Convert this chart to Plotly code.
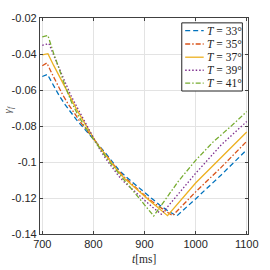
import plotly.graph_objects as go

# ---- data ----
t_33 = [700, 710, 722, 733, 745, 757, 769, 781, 790, 800, 812, 825, 838, 850, 864, 878, 890, 900, 915, 930, 946, 963, 1000, 1050, 1100]
g_33 = [-0.0525, -0.0513, -0.0575, -0.0631, -0.0683, -0.0730, -0.0773, -0.0811, -0.0840, -0.0870, -0.0912, -0.0955, -0.1002, -0.1045, -0.1083, -0.1117, -0.1145, -0.1170, -0.1205, -0.1240, -0.1272, -0.1300, -0.1205, -0.1072, -0.0932]

t_35 = [700, 709, 720, 730, 740, 750, 762, 775, 788, 800, 812, 825, 838, 850, 862, 875, 888, 900, 915, 930, 943, 955, 1000, 1050, 1100]
g_35 = [-0.0465, -0.0450, -0.0515, -0.0575, -0.0627, -0.0675, -0.0728, -0.0780, -0.0826, -0.0868, -0.0915, -0.0962, -0.1010, -0.1052, -0.1088, -0.1122, -0.1155, -0.1185, -0.1220, -0.1252, -0.1276, -0.1298, -0.1166, -0.1030, -0.0885]

t_37 = [700, 711, 722, 733, 745, 757, 768, 778, 789, 800, 812, 825, 838, 850, 862, 875, 888, 900, 913, 925, 935, 945, 1000, 1050, 1100]
g_37 = [-0.0405, -0.0398, -0.0462, -0.0523, -0.0593, -0.0658, -0.0712, -0.0760, -0.0814, -0.0866, -0.0918, -0.0968, -0.1015, -0.1058, -0.1095, -0.1128, -0.1162, -0.1192, -0.1222, -0.1250, -0.1274, -0.1298, -0.1117, -0.0973, -0.0833]

t_39 = [700, 713, 723, 733, 744, 755, 767, 778, 789, 800, 812, 825, 838, 850, 862, 875, 888, 900, 916, 933, 1000, 1050, 1100]
g_39 = [-0.0352, -0.0342, -0.0412, -0.0480, -0.0555, -0.0625, -0.0690, -0.0750, -0.0810, -0.0868, -0.0928, -0.0985, -0.1035, -0.1080, -0.1116, -0.1150, -0.1182, -0.1212, -0.1252, -0.1290, -0.1063, -0.0905, -0.0775]

t_41 = [700, 711, 722, 733, 745, 757, 769, 781, 790, 800, 815, 829, 845, 860, 875, 890, 904, 918, 948, 966, 1000, 1033, 1069, 1100]
g_41 = [-0.0305, -0.0297, -0.0395, -0.0487, -0.0580, -0.0667, -0.0735, -0.0793, -0.0835, -0.0874, -0.0934, -0.0991, -0.1047, -0.1099, -0.1150, -0.1200, -0.1250, -0.1300, -0.1180, -0.1108, -0.0991, -0.0892, -0.0802, -0.0720]

labels = ["33", "35", "37", "39", "41"]
x_ticks = [700, 800, 900, 1000, 1100]
y_ticks = [-0.14, -0.12, -0.10, -0.08, -0.06, -0.04, -0.02]
y_tick_text = ["-0.14", "-0.12", "-0.1", "-0.08", "-0.06", "-0.04", "-0.02"]

series_t = [t_33, t_35, t_37, t_39, t_41]
series_g = [g_33, g_35, g_37, g_39, g_41]
colors = ["#0072BD", "#D95319", "#EDB120", "#7E2F8E", "#77AC30"]
dashes = ["5px,3px", "5px,2px,1.5px,2px", "solid", "1.5px,2px", "5px,2px,1.5px,2px"]

SERIF = "Liberation Serif, Times New Roman, serif"
TXT = "#262626"

fig = go.Figure()
for t, g, lab, c, d in zip(series_t, series_g, labels, colors, dashes):
    fig.add_trace(go.Scatter(
        x=t, y=g, mode="lines",
        line=dict(color=c, width=1.3, dash=d),
        name=f"<i>T</i> = {lab}°", showlegend=False,
    ))

axis_common = dict(
    showline=True, linecolor="#404040", linewidth=1.2, mirror="ticks",
    ticks="inside", ticklen=3, tickcolor="#404040",
    showgrid=True, gridcolor="#e3e3e3", gridwidth=1,
    zeroline=False,
    tickfont=dict(family="Liberation Sans, Arial, sans-serif", size=11, color=TXT),
)

fig.update_xaxes(range=[695.5, 1102.5], tickvals=x_ticks, **axis_common)
fig.update_yaxes(range=[-0.14, -0.02], tickvals=y_ticks, ticktext=y_tick_text, **axis_common)

# ---- legend box drawn in paper coordinates (layout decoration) ----
shapes = [dict(type="rect", xref="paper", yref="paper",
               x0=0.6816, x1=0.973, y0=0.662, y1=0.9775,
               fillcolor="white", line=dict(color="#222222", width=1), layer="above")]
annotations = []
row_y = [0.9414, 0.8797, 0.8185, 0.7581, 0.6982]
for ry, lab, c, d in zip(row_y, labels, colors, dashes):
    shapes.append(dict(type="line", xref="paper", yref="paper",
                       x0=0.698, x1=0.787, y0=ry, y1=ry,
                       line=dict(color=c, width=1.3, dash=d), layer="above"))
    annotations.append(dict(text=f"<i>T</i> = {lab}°", xref="paper", yref="paper",
                            x=0.794, y=ry, xanchor="left", yanchor="middle",
                            showarrow=False,
                            font=dict(family=SERIF, size=11.5, color="#222222")))

annotations += [
    dict(text="<i>t</i>[ms]", xref="paper", yref="paper", x=0.5, y=0,
         yshift=-25, showarrow=False, xanchor="center", yanchor="middle",
         font=dict(family=SERIF, size=11.5, color=TXT)),
    dict(text="<i>γ<sub>f</sub></i>", xref="paper", yref="paper", x=0, y=0.5766,
         xshift=-32, showarrow=False, textangle=-90, xanchor="center", yanchor="middle",
         font=dict(family=SERIF, size=11, color="#555555")),
]

fig.update_layout(
    width=270, height=270,
    margin=dict(l=35, r=12, t=12, b=36),
    plot_bgcolor="white", paper_bgcolor="white",
    showlegend=False,
    shapes=shapes,
    annotations=annotations,
)

fig.write_html("out.html", config={"displayModeBar": False},
               post_script="document.body.style.margin='0';document.body.style.padding='0';")
